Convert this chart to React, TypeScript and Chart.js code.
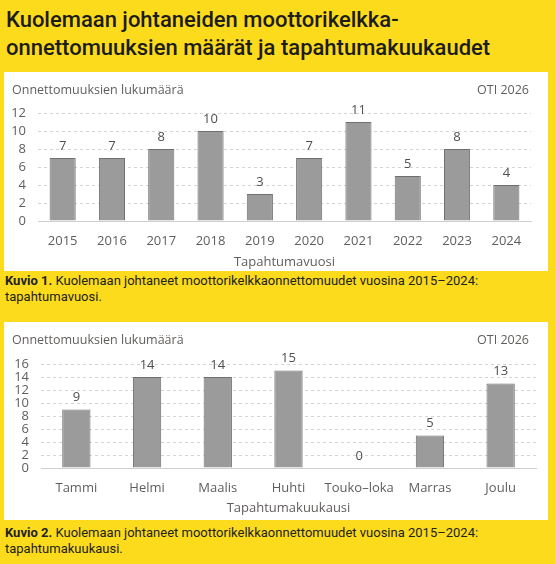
import React, { useEffect, useRef } from "react";
import { Chart, registerables } from "chart.js";

Chart.register(...registerables);

// Fatal snowmobile accidents by year
const years = ["2015", "2016", "2017", "2018", "2019", "2020", "2021", "2022", "2023", "2024"];
const yearCounts = [7, 7, 8, 10, 3, 7, 11, 5, 8, 4];
const yearAxisMax = 12;

// Fatal snowmobile accidents by month (2015–2024)
const months = ["Tammi", "Helmi", "Maalis", "Huhti", "Touko–loka", "Marras", "Joulu"];
const monthCounts = [9, 14, 14, 15, 0, 5, 13];
const monthAxisMax = 16;

const tickStep = 2;

const CHART_FONT = '"Segoe UI", "Open Sans", "Noto Sans", sans-serif';
const TEXT_GREY = "#605e5c";
const YELLOW = "#fcdb1c";

// Draws the value above each bar plus the two header texts
const annotate = {
  id: "annotate",
  afterDatasetsDraw(chart: any, _args: any, opts: any) {
    const ctx = chart.ctx;
    const meta = chart.getDatasetMeta(0);
    const values = chart.data.datasets[0].data as number[];
    ctx.save();
    ctx.font = `13px ${CHART_FONT}`;
    ctx.fillStyle = "#4f4f4f";
    ctx.textAlign = "center";
    ctx.textBaseline = "middle";
    meta.data.forEach((bar: any, i: number) => {
      ctx.fillText(String(values[i]), bar.x, bar.y - opts.labelGap);
    });
    ctx.font = `12.5px ${CHART_FONT}`;
    ctx.fillStyle = TEXT_GREY;
    ctx.textAlign = "left";
    ctx.fillText(opts.leftText, opts.leftX, opts.headY);
    ctx.textAlign = "right";
    ctx.fillText(opts.rightText, chart.width - opts.rightInset, opts.headY);
    ctx.restore();
  },
};

type BarChartProps = {
  labels: string[];
  values: number[];
  max: number;
  axisTitle: string;
  width: number;
  height: number;
  barRatio: number;
  yWidth: number;
  xHeight: number;
  padTop: number;
  padRight: number;
  tickPad: number;
  titlePad: number;
};

function BarChart(p: BarChartProps) {
  const ref = useRef<HTMLCanvasElement>(null);
  useEffect(() => {
    if (!ref.current) return;
    const chart = new Chart(ref.current, {
      type: "bar",
      data: {
        labels: p.labels,
        datasets: [
          {
            data: p.values,
            backgroundColor: "#9b9b9b",
            borderColor: "#6f6f6f",
            borderWidth: 1,
            barPercentage: p.barRatio,
            categoryPercentage: 1,
          },
        ],
      },
      options: {
        animation: false,
        responsive: false,
        maintainAspectRatio: false,
        layout: { padding: { top: p.padTop, right: p.padRight, bottom: 0, left: 0 } },
        plugins: {
          legend: { display: false },
          tooltip: { enabled: false },
          annotate: {
            labelGap: 12,
            leftText: "Onnettomuuksien lukumäärä",
            rightText: "OTI 2026",
            leftX: 8,
            headY: 18,
            rightInset: 19,
          },
        } as any,
        scales: {
          x: {
            grid: { display: false, drawTicks: false },
            border: { display: true, color: "#cfcfcf", width: 1 },
            ticks: {
              color: TEXT_GREY,
              font: { family: CHART_FONT, size: 13 },
              padding: p.tickPad,
              maxRotation: 0,
              autoSkip: false,
            },
            title: {
              display: true,
              text: p.axisTitle,
              color: TEXT_GREY,
              font: { family: CHART_FONT, size: 13 },
              padding: { top: 0, bottom: p.titlePad },
            },
            afterFit: (scale: any) => {
              scale.height = p.xHeight;
            },
          },
          y: {
            min: 0,
            max: p.max,
            grid: {
              drawTicks: false,
              color: (c: any) => (c.tick && c.tick.value === 0 ? "rgba(0,0,0,0)" : "#d4d4d4"),
              lineWidth: 1,
            },
            border: { display: false, dash: [3, 3] },
            ticks: {
              stepSize: tickStep,
              autoSkip: false,
              color: TEXT_GREY,
              font: { family: CHART_FONT, size: 13 },
              padding: 12,
            },
            afterFit: (scale: any) => {
              scale.width = p.yWidth;
            },
          },
        },
      },
      plugins: [annotate],
    });
    return () => chart.destroy();
  }, []);
  return <canvas ref={ref} width={p.width} height={p.height} style={{ display: "block" }} />;
}

const captionStyle: React.CSSProperties = {
  position: "absolute",
  left: 5,
  width: 540,
  fontFamily: "Roboto, sans-serif",
  fontSize: 13,
  lineHeight: "16px",
  color: "#222",
};

export default function App() {
  return (
    <div
      style={{
        position: "fixed",
        left: 0,
        top: 0,
        width: 555,
        height: 564,
        background: YELLOW,
        overflow: "hidden",
      }}
    >
      <div
        style={{
          position: "absolute",
          left: 6,
          top: 6,
          fontFamily: "Roboto, sans-serif",
          fontWeight: 500,
          fontSize: 22,
          lineHeight: "28px",
          color: "#1c1c1c",
        }}
      >
        Kuolemaan johtaneiden moottorikelkka-
        <br />
        onnettomuuksien määrät ja tapahtumakuukaudet
      </div>

      <div style={{ position: "absolute", left: 4, top: 72, width: 544, height: 199, background: "#fff" }}>
        <BarChart
          labels={years}
          values={yearCounts}
          max={yearAxisMax}
          axisTitle="Tapahtumavuosi"
          width={544}
          height={199}
          barRatio={0.53}
          yWidth={34}
          xHeight={50}
          padTop={41}
          padRight={17}
          tickPad={12}
          titlePad={1}
        />
      </div>
      <div style={{ ...captionStyle, top: 273 }}>
        <b>Kuvio 1.</b> Kuolemaan johtaneet moottorikelkkaonnettomuudet vuosina 2015–2024:
        <br />
        tapahtumavuosi.
      </div>

      <div style={{ position: "absolute", left: 4, top: 322, width: 544, height: 198, background: "#fff" }}>
        <BarChart
          labels={months}
          values={monthCounts}
          max={monthAxisMax}
          axisTitle="Tapahtumakuukausi"
          width={544}
          height={198}
          barRatio={0.4}
          yWidth={37}
          xHeight={52}
          padTop={42}
          padRight={12}
          tickPad={12}
          titlePad={4}
        />
      </div>
      <div style={{ ...captionStyle, top: 525 }}>
        <b>Kuvio 2.</b> Kuolemaan johtaneet moottorikelkkaonnettomuudet vuosina 2015–2024:
        <br />
        tapahtumakuukausi.
      </div>
    </div>
  );
}
